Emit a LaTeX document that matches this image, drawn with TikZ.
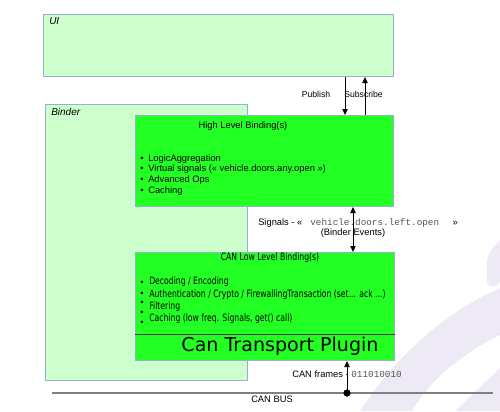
\documentclass[tikz,border=0pt]{standalone}
\usepackage{fontspec}
\setmainfont{Liberation Sans}
\setmonofont{Liberation Mono}
\newfontfamily\aglcond[FakeStretch=0.76]{DejaVu Sans}
\newfontfamily\aglwide{DejaVu Sans}
\usetikzlibrary{arrows.meta,positioning}
\definecolor{aglpale}{RGB}{204,255,204}
\definecolor{aglgreen}{RGB}{34,255,34}
\definecolor{aglborder}{RGB}{150,176,206}
\definecolor{aglmark}{RGB}{238,234,245}
\definecolor{aglbus}{RGB}{128,128,128}
\definecolor{aglmono}{RGB}{85,85,85}
\tikzset{
    agllayer/.style={draw=aglborder, fill=aglpale, anchor=north west,
        inner sep=0pt, line width=0.75pt},
    aglbinding/.style={draw=aglborder, fill=aglgreen, anchor=north west,
        inner sep=0pt, line width=0.75pt},
    agltag/.style={font=\fontsize{7.5}{9}\selectfont\itshape, anchor=north west,
        inner sep=0pt},
    agltext/.style={font=\fontsize{7}{8}\selectfont, inner sep=0pt},
    aglarrow/.style={-{Triangle[length=4.5pt,width=4pt]}, line width=0.6pt},
    aglboth/.style={{Triangle[length=4.5pt,width=4pt]}-{Triangle[length=4.5pt,width=4pt]},
        line width=0.6pt}
}
\newcommand{\aglitem}{\makebox[6pt][l]{\textbullet}}
\newcommand{\aglcode}[1]{{\ttfamily\color{aglmono}#1}}

\begin{document}
\begin{tikzpicture}[x=0.75pt, y=-0.75pt]
        \useasboundingbox (0,0) rectangle (500,411);

        % faint logo in the background
        \fill[aglmark] (360,411) .. controls (400,350) and (450,310) .. (500,288)
            -- (500,335) .. controls (460,355) and (430,380) .. (412,411) -- cycle;
        \fill[aglmark] (455,411) -- (500,368) -- (500,411) -- cycle;
        \fill[aglmark] (500,240) .. controls (492,248) and (487,255) .. (487,262)
            -- (487,282) .. controls (490,290) and (497,286) .. (500,282) -- cycle;

        % layers
        \node[agllayer, minimum width=262.5pt, minimum height=46.5pt] (ui) at (43,14) {};
        \node[agltag] (uitag) at (49,17) {UI};
        \node[agllayer, minimum width=151.5pt, minimum height=207pt] (binder) at (45,104) {};
        \node[agltag] (bindertag) at (51,108) {Binder};

        % bindings
        \node[aglbinding, minimum width=193.5pt, minimum height=68.25pt] (high) at (135,115) {};
        \node[agltext] (hightitle) at (243,126) {High Level Binding(s)};
        \node[agltext, anchor=north west, align=left] (highlist) at (140,154)
            {\aglitem LogicAggregation\\
             \aglitem Virtual signals (« vehicle.doors.any.open »)\\
             \aglitem Advanced Ops\\
             \aglitem Caching};

        \node[aglbinding, minimum width=194.25pt, minimum height=81pt] (low) at (135,252) {};
        \draw[black!80, line width=0.75pt] (low.west |- 0,334) coordinate (cut)
            -- (cut -| low.east);
        \node[agltext, font=\aglcond\fontsize{7.6}{8}\selectfont] (lowtitle) at (270,258)
            {CAN Low Level Binding(s)};
        \node[agltext, font=\aglcond\fontsize{7.6}{9.1}\selectfont, anchor=north west,
            align=left] (lowlist) at (149,277)
            {Decoding / Encoding\\
             Authentication / Crypto / FirewallingTransaction (set... ack ...)\\
             Filtering\\
             Caching (low freq. Signals, get() call)};
        \foreach \y in {283,294,303,313,323}
            \node[agltext] at (142,\y) {\textbullet};
        \node[inner sep=0pt, anchor=base, font=\aglwide\fontsize{14.3}{16}\selectfont]
            (plugin) at (280,351) {Can Transport Plugin};

        % bus
        \coordinate (busleft) at (52,393);
        \coordinate (busright) at (493,393);
        \draw[aglbus, line width=1.2pt] (busleft) -- (busright);
        \fill[black] (347,393) circle (3.6) coordinate (tap);
        \node[agltext] (bustag) at (272,399) {CAN BUS};

        % connectors
        \coordinate (pub) at (345,0);
        \coordinate (sub) at (365,0);
        \coordinate (sig) at (353,0);
        \draw[aglarrow] (ui.south -| pub) -- (high.north -| pub);
        \draw[aglarrow] (high.north -| sub) -- (ui.south -| sub);
        \node[agltext, font=\fontsize{6.5}{8}\selectfont] (pubtag) at (316,94) {Publish};
        \node[agltext, font=\fontsize{6.5}{8}\selectfont, anchor=west] (subtag) at (344,94) {Subscribe};

        \draw[aglboth] (high.south -| sig) -- (low.north -| sig);
        \node[agltext, anchor=west] (sigtag) at (258,223)
            {Signals - «\hspace{6pt}\aglcode{vehicle.doors.left.open}\hspace{10pt}»};
        \node[agltext] (sigsub) at (353,233) {(Binder Events)};

        \draw[aglboth] (low.south -| tap) -- ([yshift=-3pt]tap);
        \node[agltext, anchor=west] (frametag) at (292,374)
            {CAN frames - \aglcode{011010010}};
    \end{tikzpicture}
\end{document}
